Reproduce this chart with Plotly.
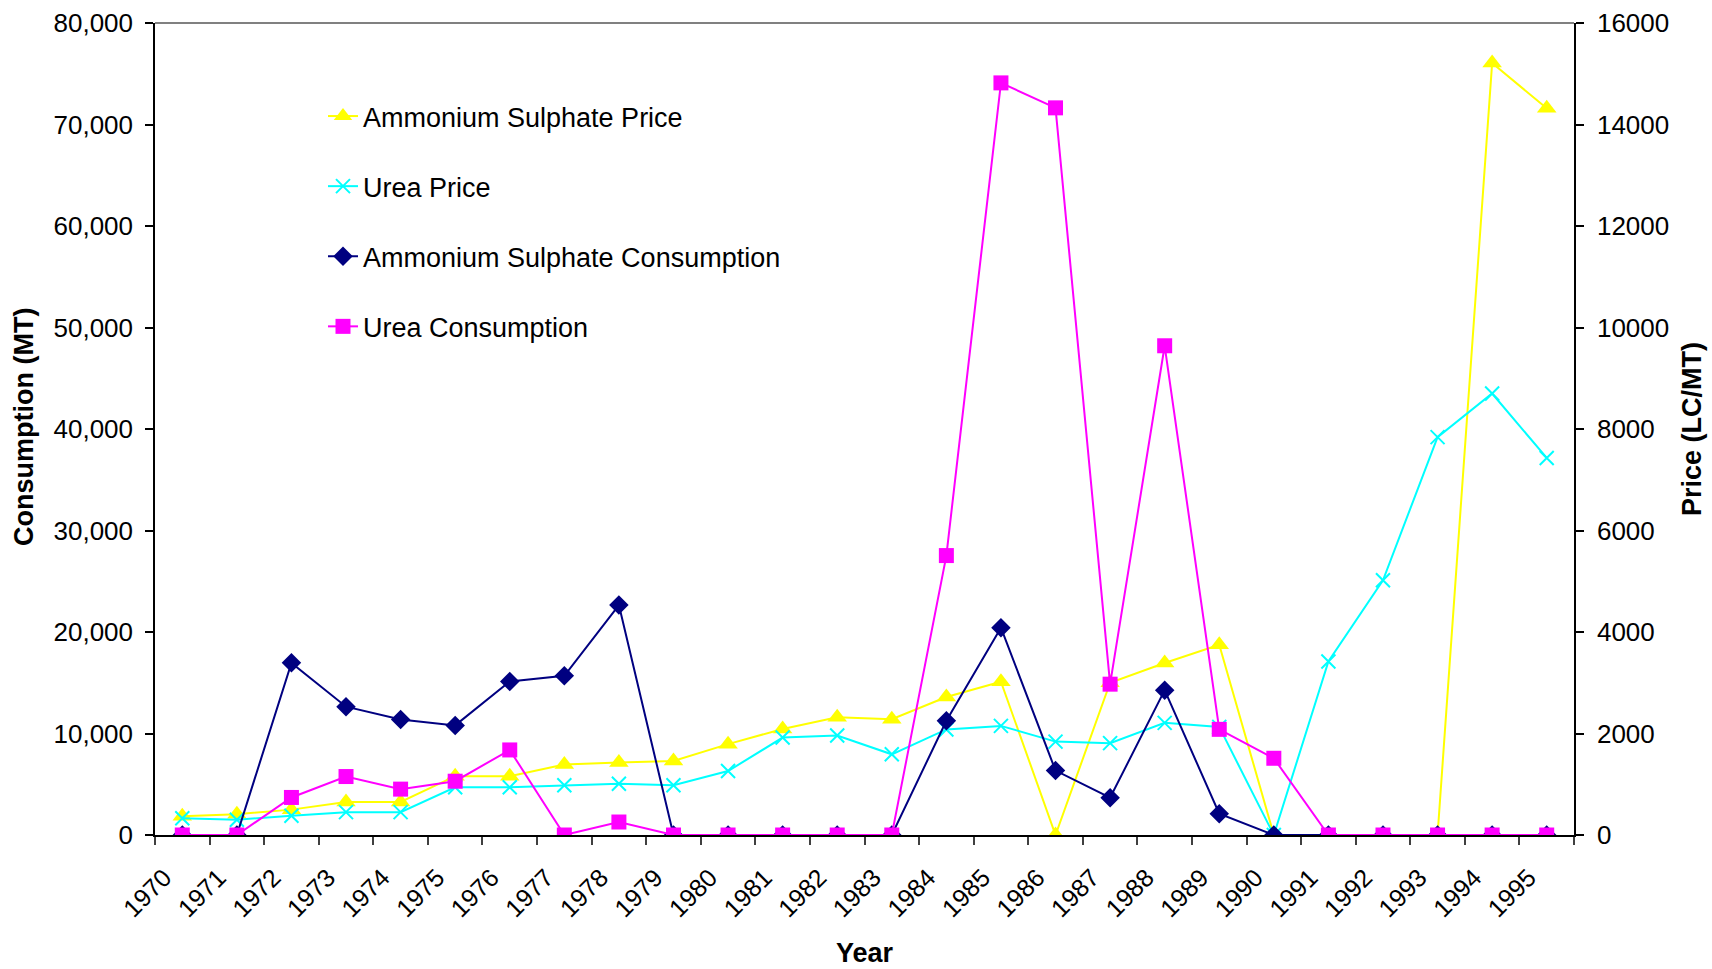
import plotly.graph_objects as go

years = [str(y) for y in range(1970, 1996)]
as_price = [370, 410, 500, 650, 650, 1160, 1160, 1390, 1430, 1460, 1790, 2090, 2320, 2280,
            2720, 3020, 0, 3000, 3390, 3750, 0, 0, 0, 0, 15210, 14320]
urea_price = [330, 300, 380, 450, 450, 940, 940, 980, 1010, 980, 1260, 1920, 1960, 1590,
              2080, 2150, 1840, 1810, 2210, 2130, 0, 3420, 5020, 7840, 8700, 7430]
as_cons = [0, 0, 16960, 12640, 11390, 10800, 15120, 15680, 22650, 0, 0, 0, 0, 0,
           11260, 20430, 6350, 3670, 14270, 2100, 0, 0, 0, 0, 0, 0]
urea_cons = [0, 0, 3700, 5760, 4520, 5300, 8380, 0, 1280, 0, 0, 0, 0, 0,
             27530, 74100, 71640, 14860, 48200, 10410, 7560, 0, 0, 0, 0, 0]

FONT = "Liberation Sans, Arial, sans-serif"
W, H = 1712, 969
L, R, T, B = 155, 138, 23, 134

fig = go.Figure()
fig.add_trace(go.Scatter(x=years, y=as_price, name="Ammonium Sulphate Price", mode="lines+markers",
                         line=dict(color="#FFFF00", width=2),
                         marker=dict(symbol="triangle-up", size=17, color="#FFFF00"),
                         yaxis="y", legendgroup="a"))
fig.add_trace(go.Scatter(x=years, y=urea_price, name="Urea Price", mode="lines+markers",
                         line=dict(color="#00FFFF", width=2),
                         marker=dict(symbol="x-thin", size=14, line=dict(color="#00FFFF", width=2)),
                         yaxis="y", legendgroup="b"))
fig.add_trace(go.Scatter(x=years, y=as_cons, name="Ammonium Sulphate Consumption", mode="lines+markers",
                         line=dict(color="#000080", width=2),
                         marker=dict(symbol="diamond", size=15, color="#000080"),
                         yaxis="y2", legendgroup="c"))
fig.add_trace(go.Scatter(x=years, y=urea_cons, name="Urea Consumption", mode="lines+markers",
                         line=dict(color="#FF00FF", width=2),
                         marker=dict(symbol="square", size=15, color="#FF00FF"),
                         yaxis="y2", legendgroup="d"))

pw = W - L - R
ph = H - T - B

fig.update_layout(
    width=W, height=H,
    margin=dict(l=L, r=R, t=T, b=B, autoexpand=False),
    paper_bgcolor="white", plot_bgcolor="white",
    font=dict(family=FONT, size=26, color="black"),
    showlegend=True,
    legend=dict(x=(323 - L) / pw, y=(T + ph - 92) / ph, xanchor="left", yanchor="top",
                bgcolor="rgba(0,0,0,0)", font=dict(size=27, family=FONT),
                traceorder="grouped", tracegroupgap=32),
    xaxis=dict(type="category", range=[-0.5, 25.5], tickson="boundaries", ticks="outside",
               ticklen=8, tickcolor="#404040", tickwidth=1.5, showline=True, linecolor="black",
               linewidth=2, tickangle=-45, showgrid=False, zeroline=False,
               tickfont=dict(size=25), ticklabelstandoff=16, ticklabelshift=-18),
    xaxis2=dict(overlaying="x", range=[-0.5, 25.5], tickmode="array",
                tickvals=[i - 0.5 for i in range(27)], ticks="inside", ticklen=8,
                tickcolor="#404040", tickwidth=1.5, showticklabels=False, showline=False,
                showgrid=False, zeroline=False, side="bottom", anchor="y"),
    yaxis=dict(side="right", range=[0, 16000], dtick=2000, tickformat="d", ticks="outside",
               ticklen=8, tickcolor="black", tickwidth=1.5, showline=True, linecolor="black",
               linewidth=1.5, showgrid=False, zeroline=False, tickfont=dict(size=26),
               ticklabelstandoff=8),
    yaxis2=dict(overlaying="y", side="left", range=[0, 80000], dtick=10000, tickformat=",d",
                ticks="outside", ticklen=8, tickcolor="black", tickwidth=1.5, showline=True,
                linecolor="black", linewidth=1.5, showgrid=False, zeroline=False,
                tickfont=dict(size=26), ticklabelstandoff=7),
    yaxis3=dict(overlaying="y", side="left", range=[0, 80000], dtick=10000, ticks="inside",
                ticklen=8, tickcolor="black", tickwidth=1.5, showticklabels=False,
                showline=False, showgrid=False, zeroline=False),
    yaxis4=dict(overlaying="y", side="right", range=[0, 16000], dtick=2000, ticks="inside",
                ticklen=8, tickcolor="black", tickwidth=1.5, showticklabels=False,
                showline=False, showgrid=False, zeroline=False),
    shapes=[dict(type="line", xref="paper", yref="paper", x0=0, x1=1, y0=1, y1=1,
                 line=dict(color="#808080", width=2))],
    annotations=[
        dict(text="<b>Consumption (MT)</b>", xref="paper", yref="paper",
             x=(24 - L) / pw, y=(T + ph - 427) / ph, textangle=-90, showarrow=False,
             xanchor="center", yanchor="middle", font=dict(size=27, family=FONT)),
        dict(text="<b>Price (LC/MT)</b>", xref="paper", yref="paper",
             x=(1692 - L) / pw, y=(T + ph - 429) / ph, textangle=-90, showarrow=False,
             xanchor="center", yanchor="middle", font=dict(size=27, family=FONT)),
        dict(text="<b>Year</b>", xref="paper", yref="paper",
             x=0.5, y=(T + ph - 953) / ph, showarrow=False,
             xanchor="center", yanchor="middle", font=dict(size=27, family=FONT)),
    ],
)

fig.write_html("out.html", config={"displayModeBar": False},
               post_script="document.body.style.margin='0px';document.body.style.overflow='hidden';")
